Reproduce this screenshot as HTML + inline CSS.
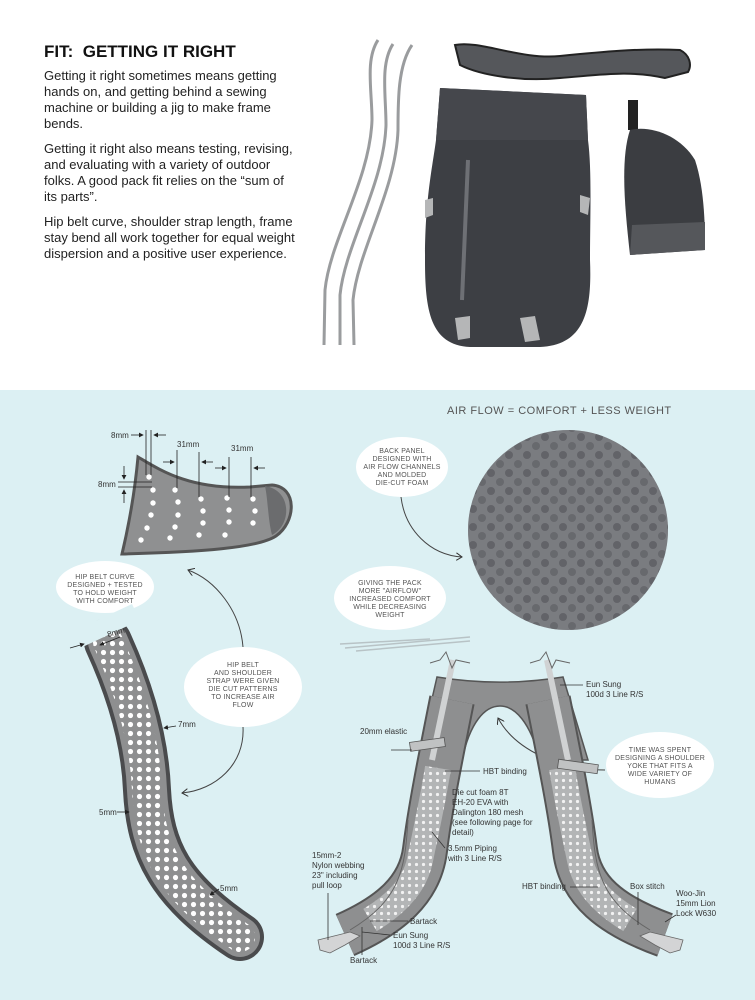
<!DOCTYPE html>
<html><head><meta charset="utf-8"><style>
html,body{margin:0;padding:0;background:#fff;}
svg{display:block;}
.b{font-family:"Liberation Sans",sans-serif;font-size:13px;fill:#222;}
.l{font-family:"Liberation Sans",sans-serif;font-size:8px;fill:#333;}
.h{font-family:"Liberation Sans",sans-serif;font-size:7px;fill:#555;text-anchor:middle;letter-spacing:0.2px;}
</style></head><body>
<svg width="755" height="1000" viewBox="0 0 755 1000" xmlns="http://www.w3.org/2000/svg">
<defs>
<pattern id="dots" width="9" height="9" patternUnits="userSpaceOnUse">
<rect width="9" height="9" fill="#8e8f90"/><circle cx="4.5" cy="4.5" r="2.6" fill="#fff"/></pattern>
<pattern id="mesh" width="7" height="7" patternUnits="userSpaceOnUse">
<rect width="7" height="7" fill="#b3b5b6"/><circle cx="3.5" cy="3.5" r="1.6" fill="#f2f2f2"/></pattern>
<pattern id="foam" width="18" height="18" patternUnits="userSpaceOnUse">
<rect width="18" height="18" fill="#7e7f83"/><circle cx="5" cy="5" r="4" fill="#55565a"/><circle cx="14" cy="14" r="4" fill="#5e5f63"/></pattern>
<marker id="ar" markerWidth="8" markerHeight="8" refX="6" refY="4" orient="auto"><path d="M0,0 L6,4 L0,8" fill="none" stroke="#333" stroke-width="1"/></marker>
<marker id="ah" markerWidth="6" markerHeight="6" refX="5" refY="3" orient="auto"><path d="M0,0 L6,3 L0,6 Z" fill="#222"/></marker>
</defs>
<rect width="755" height="390" fill="#fff"/>
<rect y="390" width="755" height="610" fill="#dcf0f3"/>

<text x="44" y="57" font-family="Liberation Sans" font-weight="bold" font-size="17" fill="#111" xml:space="preserve">FIT:  GETTING IT RIGHT</text>
<text class="b"><tspan x="44" y="80">Getting it right sometimes means getting</tspan><tspan x="44" y="96">hands on, and getting behind a sewing</tspan><tspan x="44" y="112">machine or building a jig to make frame</tspan><tspan x="44" y="128">bends.</tspan>
<tspan x="44" y="153">Getting it right also means testing, revising,</tspan><tspan x="44" y="169">and evaluating with a variety of outdoor</tspan><tspan x="44" y="185">folks.  A good pack fit relies on the “sum of</tspan><tspan x="44" y="201">its parts”.</tspan>
<tspan x="44" y="226">Hip belt curve, shoulder strap length, frame</tspan><tspan x="44" y="242">stay bend all work together for equal weight</tspan><tspan x="44" y="258">dispersion and a positive user experience.</tspan></text>

<g fill="none" stroke="#9a9c9e" stroke-width="3">
<path d="M378,40 C365,60 372,90 372,120 C370,180 330,240 325,290 L324,345"/>
<path d="M393,44 C380,64 386,95 386,125 C384,185 345,245 340,295 L340,345"/>
<path d="M412,45 C398,65 398,100 398,130 C396,190 358,250 353,300 L354,345"/>
</g>
<path d="M440,88 L586,95 L588,140 C592,170 590,220 590,260 C592,310 585,345 540,347 L470,347 C430,345 425,310 425,260 C425,200 432,170 436,140 Z" fill="#3d3f44"/>
<path d="M440,88 L586,95 L588,140 L436,140 Z" fill="#45474c"/>
<path d="M468,160 L462,300" stroke="#6e7075" stroke-width="4"/>
<path d="M455,318 L470,316 L470,338 L458,340 Z M520,318 L535,316 L540,340 L525,342 Z" fill="#b5b6b7"/>
<path d="M425,200 L433,198 L433,215 L425,218 Z M580,195 L590,198 L588,215 L580,212 Z" fill="#b5b6b7"/>
<path d="M455,45 C480,40 520,60 560,56 C600,52 640,48 680,50 C690,55 692,65 688,72 L665,78 C630,70 600,75 560,78 C520,82 480,75 460,65 Z" fill="#55575b" stroke="#222" stroke-width="2"/>
<rect x="628" y="100" width="10" height="30" fill="#222"/>
<path d="M630,130 C650,125 680,135 695,160 C705,190 705,230 705,250 L630,255 C625,210 620,160 630,130 Z" fill="#3b3d41"/>
<path d="M632,225 L705,222 L705,250 L630,255 Z" fill="#55575b"/>

<text x="447" y="414" font-family="Liberation Sans" font-size="11" fill="#555" letter-spacing="0.5">AIR FLOW = COMFORT + LESS WEIGHT</text>

<circle cx="568" cy="530" r="100" fill="url(#foam)"/>
<circle cx="568" cy="530" r="100" fill="#76787c" opacity="0.4"/>

<ellipse cx="402" cy="467" rx="46" ry="30" fill="#fff"/>
<text class="h"><tspan x="402" y="453">BACK PANEL</tspan><tspan x="402" y="461">DESIGNED WITH</tspan><tspan x="402" y="469">AIR FLOW CHANNELS</tspan><tspan x="402" y="477">AND MOLDED</tspan><tspan x="402" y="485">DIE-CUT FOAM</tspan></text>
<ellipse cx="390" cy="598" rx="56" ry="32" fill="#fff"/>
<text class="h"><tspan x="390" y="585">GIVING THE PACK</tspan><tspan x="390" y="593">MORE "AIRFLOW"</tspan><tspan x="390" y="601">INCREASED COMFORT</tspan><tspan x="390" y="609">WHILE DECREASING</tspan><tspan x="390" y="617">WEIGHT</tspan></text>
<ellipse cx="105" cy="587" rx="49" ry="26" fill="#fff"/>
<text class="h"><tspan x="105" y="579">HIP BELT CURVE</tspan><tspan x="105" y="587">DESIGNED + TESTED</tspan><tspan x="105" y="595">TO HOLD WEIGHT</tspan><tspan x="105" y="603">WITH COMFORT</tspan></text>
<ellipse cx="243" cy="687" rx="59" ry="40" fill="#fff"/>
<text class="h"><tspan x="243" y="667">HIP BELT</tspan><tspan x="243" y="675">AND SHOULDER</tspan><tspan x="243" y="683">STRAP WERE GIVEN</tspan><tspan x="243" y="691">DIE CUT PATTERNS</tspan><tspan x="243" y="699">TO INCREASE AIR</tspan><tspan x="243" y="707">FLOW</tspan></text>
<ellipse cx="660" cy="765" rx="54" ry="33" fill="#fff"/>
<text class="h"><tspan x="660" y="752">TIME WAS SPENT</tspan><tspan x="660" y="760">DESIGNING A SHOULDER</tspan><tspan x="660" y="768">YOKE THAT FITS A</tspan><tspan x="660" y="776">WIDE VARIETY OF</tspan><tspan x="660" y="784">HUMANS</tspan></text>

<g fill="none" stroke="#444" stroke-width="1">
<path d="M401,497 C405,530 430,555 462,557" marker-end="url(#ar)"/>
<path d="M243,647 C240,610 215,580 188,570" marker-end="url(#ar)"/>
<path d="M243,727 C245,765 215,790 182,793" marker-end="url(#ar)"/>
<path d="M605,770 C560,770 515,750 498,718" marker-end="url(#ar)"/>
</g>
<g stroke="#b8c3c6" stroke-width="1.5"><line x1="340" y1="644" x2="430" y2="639"/><line x1="345" y1="648" x2="470" y2="637"/><line x1="356" y1="651" x2="470" y2="641"/></g>

<path d="M138,457 C160,470 190,490 250,487 L272,485 C298,487 296,522 276,536 C258,548 200,552 122,554 C130,520 135,490 138,457 Z" fill="#8f9091" stroke="#555" stroke-width="3"/>
<path d="M265,486 C292,490 292,525 272,535 C268,520 268,500 265,486 Z" fill="#6b6c6e"/>
<g fill="#fff">
<circle cx="149" cy="477" r="2.7"/><circle cx="153" cy="490" r="2.7"/><circle cx="153" cy="503" r="2.7"/><circle cx="151" cy="515" r="2.7"/><circle cx="147" cy="528" r="2.7"/><circle cx="141" cy="540" r="2.7"/>
<circle cx="175" cy="490" r="2.7"/><circle cx="178" cy="502" r="2.7"/><circle cx="178" cy="515" r="2.7"/><circle cx="175" cy="527" r="2.7"/><circle cx="170" cy="538" r="2.7"/>
<circle cx="201" cy="499" r="2.7"/><circle cx="203" cy="511" r="2.7"/><circle cx="203" cy="523" r="2.7"/><circle cx="199" cy="535" r="2.7"/>
<circle cx="227" cy="498" r="2.7"/><circle cx="229" cy="510" r="2.7"/><circle cx="229" cy="522" r="2.7"/><circle cx="225" cy="535" r="2.7"/>
<circle cx="253" cy="499" r="2.7"/><circle cx="255" cy="511" r="2.7"/><circle cx="253" cy="523" r="2.7"/>
</g>
<g stroke="#222" stroke-width="0.8" fill="none">
<line x1="146" y1="430" x2="146" y2="475"/><line x1="151" y1="430" x2="151" y2="475"/>
<line x1="177" y1="450" x2="177" y2="488"/><line x1="199" y1="452" x2="199" y2="497"/>
<line x1="229" y1="457" x2="229" y2="497"/><line x1="251" y1="457" x2="251" y2="497"/>
<line x1="118" y1="482" x2="152" y2="482"/><line x1="118" y1="487" x2="152" y2="487"/>
<line x1="131" y1="435" x2="143" y2="435" marker-end="url(#ah)"/><line x1="166" y1="435" x2="154" y2="435" marker-end="url(#ah)"/>
<line x1="163" y1="462" x2="174" y2="462" marker-end="url(#ah)"/><line x1="213" y1="462" x2="202" y2="462" marker-end="url(#ah)"/>
<line x1="215" y1="468" x2="226" y2="468" marker-end="url(#ah)"/><line x1="265" y1="468" x2="254" y2="468" marker-end="url(#ah)"/>
<line x1="124" y1="466" x2="124" y2="479" marker-end="url(#ah)"/><line x1="124" y1="503" x2="124" y2="490" marker-end="url(#ah)"/>
</g>
<text class="l" x="111" y="438">8mm</text><text class="l" x="177" y="447">31mm</text><text class="l" x="231" y="451">31mm</text><text class="l" x="98" y="487">8mm</text>

<g fill="none" stroke-linejoin="round" stroke-linecap="round">
<path d="M108,642 C130,690 145,740 147,790 C150,850 170,890 240,937" stroke="#4a4b4d" stroke-width="48"/>
<path d="M108,642 C130,690 145,740 147,790 C150,850 170,890 240,937" stroke="#8e8f90" stroke-width="40"/>
<path d="M108,642 C130,690 145,740 147,790 C150,850 170,890 240,937" stroke="url(#dots)" stroke-width="30"/>
</g>
<rect x="60" y="620" width="80" height="18" fill="#dcf0f3" transform="rotate(-25 100 630)"/>
<g stroke="#222" stroke-width="0.8"><line x1="70" y1="648" x2="84" y2="644" marker-end="url(#ah)"/><line x1="120" y1="637" x2="100" y2="645" marker-end="url(#ah)"/>
<line x1="176" y1="726" x2="164" y2="728" marker-end="url(#ah)"/><line x1="117" y1="812" x2="129" y2="812" marker-end="url(#ah)"/><line x1="219" y1="889" x2="210" y2="895" marker-end="url(#ah)"/></g>
<text class="l" x="108" y="637" transform="rotate(-15 108 637)">8mm</text>
<text class="l" x="178" y="727">7mm</text><text class="l" x="99" y="815">5mm</text><text class="l" x="220" y="891">5mm</text>

<path d="M437,677 C480,684 520,684 563,677 L588,760 L540,760 C530,722 515,706 500,706 C485,706 470,722 462,760 L418,760 Z" fill="#8e8f90" stroke="#555" stroke-width="1.5"/>
<g fill="none">
<path d="M452,700 C440,760 430,810 425,850 C420,890 390,915 345,935" stroke="#555" stroke-width="46"/>
<path d="M452,700 C440,760 430,810 425,850 C420,890 390,915 345,935" stroke="#8e8f90" stroke-width="42"/>
<path d="M548,700 C560,760 570,810 575,850 C580,890 610,915 665,935" stroke="#555" stroke-width="46"/>
<path d="M548,700 C560,760 570,810 575,850 C580,890 610,915 665,935" stroke="#8e8f90" stroke-width="42"/>
<path d="M438,768 C432,805 425,835 420,860 C415,885 395,905 370,920" stroke="url(#mesh)" stroke-width="26"/>
<path d="M562,768 C568,805 575,835 580,860 C585,885 605,905 630,920" stroke="url(#mesh)" stroke-width="26"/>
<path d="M408,820 C405,870 400,900 350,930" stroke="#666" stroke-width="1"/>
<path d="M592,820 C595,870 600,900 650,930" stroke="#666" stroke-width="1"/>
<path d="M453,660 L432,760" stroke="#d0d2d3" stroke-width="6"/>
<path d="M547,660 L568,760" stroke="#d0d2d3" stroke-width="6"/>
<path d="M430,663 L440,660 L446,652 L452,668 L456,660 L470,663 M530,663 L540,660 L546,652 L552,668 L556,660 L570,663" stroke="#666" stroke-width="1"/>
</g>
<rect x="410" y="740" width="35" height="9" fill="#c0c2c3" stroke="#555" stroke-width="0.8" transform="rotate(-8 427 745)"/>
<rect x="558" y="762" width="40" height="9" fill="#c0c2c3" stroke="#555" stroke-width="0.8" transform="rotate(8 578 766)"/>
<path d="M318,940 L350,932 L360,936 L345,945 L330,953 L320,950 Z M683,940 L650,932 L640,936 L655,945 L670,953 L680,950 Z" fill="#d3d4d5" stroke="#666" stroke-width="0.8"/>
<g stroke="#333" stroke-width="0.8">
<line x1="391" y1="750" x2="412" y2="750"/><line x1="445" y1="771" x2="480" y2="771"/><line x1="432" y1="832" x2="445" y2="848"/>
<line x1="560" y1="685" x2="583" y2="685"/><line x1="570" y1="887" x2="598" y2="887"/><line x1="638" y1="892" x2="638" y2="925"/>
<line x1="665" y1="922" x2="676" y2="915"/><line x1="328" y1="893" x2="328" y2="940"/><line x1="370" y1="921" x2="408" y2="921"/>
<line x1="362" y1="932" x2="390" y2="935"/><line x1="362" y1="927" x2="362" y2="955"/>
</g>
<text class="l"><tspan x="586" y="687">Eun Sung</tspan><tspan x="586" y="697">100d 3 Line R/S</tspan></text>
<text class="l" x="360" y="734">20mm elastic</text>
<text class="l" x="483" y="774">HBT binding</text>
<text class="l"><tspan x="452" y="795">Die cut foam 8T</tspan><tspan x="452" y="805">EH-20 EVA with</tspan><tspan x="452" y="815">Dalington 180 mesh</tspan><tspan x="452" y="825">(see following page for</tspan><tspan x="452" y="835">detail)</tspan></text>
<text class="l"><tspan x="448" y="851">3.5mm Piping</tspan><tspan x="448" y="861">with 3 Line R/S</tspan></text>
<text class="l"><tspan x="312" y="858">15mm-2</tspan><tspan x="312" y="868">Nylon webbing</tspan><tspan x="312" y="878">23" including</tspan><tspan x="312" y="888">pull loop</tspan></text>
<text class="l" x="522" y="889">HBT binding</text>
<text class="l" x="630" y="889">Box stitch</text>
<text class="l"><tspan x="676" y="896">Woo-Jin</tspan><tspan x="676" y="906">15mm Lion</tspan><tspan x="676" y="916">Lock W630</tspan></text>
<text class="l" x="410" y="924">Bartack</text>
<text class="l"><tspan x="393" y="938">Eun Sung</tspan><tspan x="393" y="948">100d 3 Line R/S</tspan></text>
<text class="l" x="350" y="963">Bartack</text>
</svg>
</body></html>
